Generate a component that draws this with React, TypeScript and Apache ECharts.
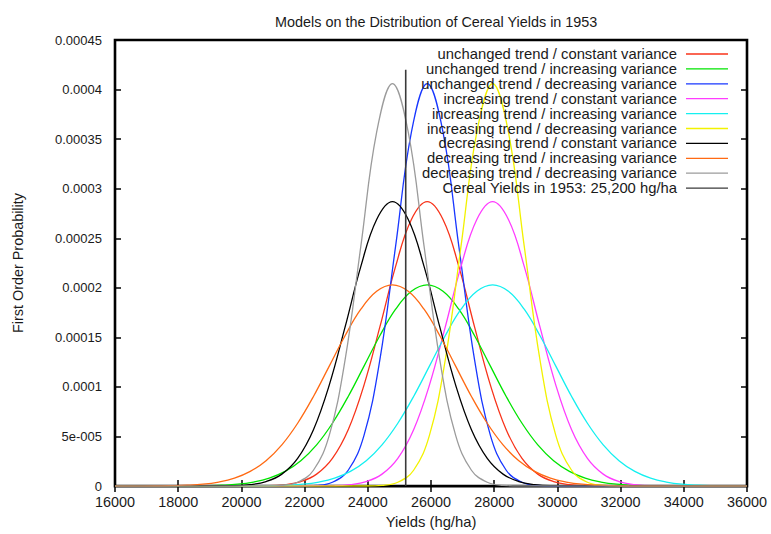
import { useEffect, useRef } from "react";
import * as echarts from "echarts";

// ---- data ----
const xMin = 16000;
const xMax = 36000;
const xInterval = 2000;
const yTickLabels = ["0", "5e-005", "0.0001", "0.00015", "0.0002", "0.00025", "0.0003", "0.00035", "0.0004", "0.00045"];

// distance from each curve's centre (hg/ha) at which a value was read
const offsets = [0, 500, 1000, 1500, 2000, 2500, 3000, 3500, 4000, 4500, 5000, 5500, 6000, 6500, 7000, 7500];

// readings (first order probability) at the offsets above, per variance model
const decreasingVarianceProfile = [0.000406, 0.000357, 0.000242, 0.000127, 0.0000512, 0.000016, 0.0000039, 0.0000007, 0.0000001];
const constantVarianceProfile = [0.000287, 0.000269, 0.0002216, 0.0001603, 0.0001019, 0.0000569, 0.000028, 0.0000121, 0.0000046, 0.0000015, 0.0000004];
const increasingVarianceProfile = [0.000203, 0.0001965, 0.0001784, 0.0001517, 0.000121, 0.0000904, 0.0000634, 0.0000416, 0.0000256, 0.0000148, 0.000008, 0.0000041, 0.0000019, 0.0000009, 0.0000004, 0.0000001];

// centres of the curves per trend model
const unchangedTrendCentre = 25880;
const increasingTrendCentre = 27950;
const decreasingTrendCentre = 24780;

const seriesNames = [
  "unchanged trend / constant variance",
  "unchanged trend / increasing variance",
  "unchanged trend / decreasing variance",
  "increasing trend / constant variance",
  "increasing trend / increasing variance",
  "increasing trend / decreasing variance",
  "decreasing trend / constant variance",
  "decreasing trend / increasing variance",
  "decreasing trend / decreasing variance",
];
const seriesCentres = [
  unchangedTrendCentre, unchangedTrendCentre, unchangedTrendCentre,
  increasingTrendCentre, increasingTrendCentre, increasingTrendCentre,
  decreasingTrendCentre, decreasingTrendCentre, decreasingTrendCentre,
];
const seriesProfiles = [
  constantVarianceProfile, increasingVarianceProfile, decreasingVarianceProfile,
  constantVarianceProfile, increasingVarianceProfile, decreasingVarianceProfile,
  constantVarianceProfile, increasingVarianceProfile, decreasingVarianceProfile,
];
const seriesColors = ["#f8331a", "#00e400", "#1837ff", "#ff3cff", "#14f0f0", "#f2f200", "#000000", "#ff6a13", "#9b9b9b"];

const observedName = "Cereal Yields in 1953: 25,200 hg/ha";
const observedYield = 25200;
const observedTop = 0.00042;
const observedColor = "#3a3a3a";

const FONT = "'Liberation Sans', Arial, Helvetica, sans-serif";
const TEXT = "#1a1a1a";

function buildCurve(centre: number, profile: number[]): number[][] {
  const pts: number[][] = [[xMin, 0]];
  for (let i = profile.length - 1; i >= 1; i--) pts.push([centre - offsets[i], profile[i]]);
  pts.push([centre, profile[0]]);
  for (let i = 1; i < profile.length; i++) pts.push([centre + offsets[i], profile[i]]);
  pts.push([xMax, 0]);
  return pts;
}

export default function App() {
  const ref = useRef<HTMLDivElement>(null);
  useEffect(() => {
    document.body.style.margin = "0";
    if (!ref.current) return;
    const chart = echarts.init(ref.current, undefined, { renderer: "svg" });

    const series: any[] = seriesNames.map((name, i) => ({
      name,
      type: "line",
      data: buildCurve(seriesCentres[i], seriesProfiles[i]),
      showSymbol: false,
      smooth: 0.4,
      lineStyle: { color: seriesColors[i], width: 1.3 },
      itemStyle: { color: seriesColors[i] },
      xAxisIndex: 0,
      yAxisIndex: 0,
    }));
    series.push({
      name: observedName,
      type: "line",
      data: [[observedYield, 0], [observedYield, observedTop]],
      showSymbol: false,
      lineStyle: { color: observedColor, width: 1.6 },
      itemStyle: { color: observedColor },
    });

    const allNames = [...seriesNames, observedName];
    const allColors = [...seriesColors, observedColor];
    const legendGraphics: any[] = [];
    allNames.forEach((n, i) => {
      const y = 54 + i * 14.9;
      legendGraphics.push({
        type: "text",
        x: 677,
        y,
        style: { text: n, font: `14.8px ${FONT}`, fill: TEXT, textAlign: "right", textVerticalAlign: "middle" },
        z: 100,
      });
      legendGraphics.push({
        type: "line",
        shape: { x1: 686, y1: y, x2: 728, y2: y },
        style: { stroke: allColors[i], lineWidth: 1.3 },
        z: 100,
      });
    });

    const tickStyle = { show: true, inside: true, length: 6, lineStyle: { color: "#000", width: 1.5 } };

    chart.setOption({
      animation: false,
      backgroundColor: "#fff",
      title: {
        text: "Models on the Distribution of Cereal Yields in 1953",
        left: 270,
        top: 10,
        textStyle: { fontFamily: FONT, fontSize: 14.4, fontWeight: "normal", color: TEXT },
      },
      grid: {
        left: 115,
        right: 24,
        top: 40,
        bottom: 46,
        show: true,
        borderColor: "#000",
        borderWidth: 2.6,
        backgroundColor: "transparent",
      },
      xAxis: [
        {
          type: "value",
          min: xMin,
          max: xMax,
          interval: xInterval,
          position: "bottom",
          name: "Yields (hg/ha)",
          nameLocation: "middle",
          nameGap: 27,
          nameTextStyle: { fontFamily: FONT, fontSize: 14.8, color: TEXT },
          axisLine: { show: false },
          axisTick: tickStyle,
          splitLine: { show: false },
          axisLabel: {
            fontFamily: FONT,
            fontSize: 14.4,
            color: TEXT,
            margin: 9,
            formatter: (v: number) => String(v),
          },
        },
        {
          type: "value",
          min: xMin,
          max: xMax,
          interval: xInterval,
          position: "top",
          axisLine: { show: false },
          axisTick: tickStyle,
          splitLine: { show: false },
          axisLabel: { show: false },
        },
      ],
      yAxis: [
        {
          type: "value",
          min: 0,
          max: 0.00045,
          interval: 0.00005,
          position: "left",
          name: "First Order Probability",
          nameLocation: "middle",
          nameGap: 90,
          nameTextStyle: { fontFamily: FONT, fontSize: 14.4, color: TEXT },
          axisLine: { show: false },
          axisTick: tickStyle,
          splitLine: { show: false },
          axisLabel: {
            fontFamily: FONT,
            fontSize: 13,
            color: TEXT,
            margin: 13,
            formatter: (_v: number, idx: number) => yTickLabels[idx] ?? "",
          },
        },
        {
          type: "value",
          min: 0,
          max: 0.00045,
          interval: 0.00005,
          position: "right",
          axisLine: { show: false },
          axisTick: tickStyle,
          splitLine: { show: false },
          axisLabel: { show: false },
        },
      ],
      series,
      graphic: legendGraphics,
    });

    return () => chart.dispose();
  }, []);
  return <div ref={ref} style={{ width: 771, height: 534 }} />;
}
